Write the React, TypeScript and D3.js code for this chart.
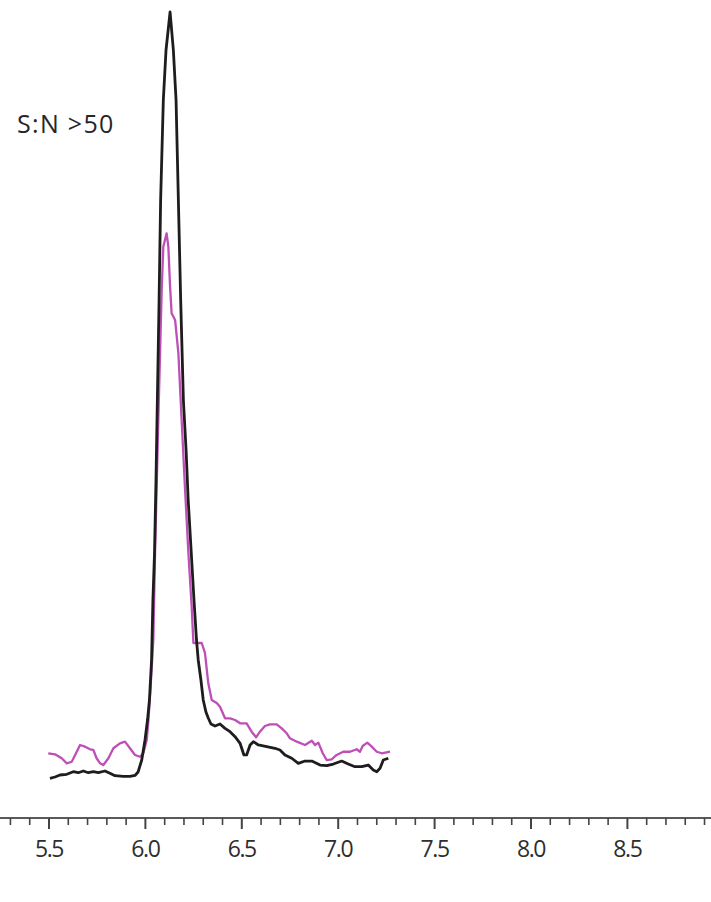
import React from "react";
import * as d3 from "d3";

// Retention time (min) and relative intensity for the two traces
const blackTime = [5.505, 5.531, 5.557, 5.592, 5.626, 5.652, 5.678, 5.704, 5.73, 5.756, 5.79, 5.816, 5.842, 5.885, 5.92, 5.946, 5.962, 5.981, 5.998, 6.011, 6.021, 6.032, 6.039, 6.047, 6.055, 6.062, 6.071, 6.079, 6.093, 6.107, 6.128, 6.145, 6.159, 6.171, 6.183, 6.197, 6.211, 6.222, 6.237, 6.252, 6.265, 6.274, 6.288, 6.3, 6.314, 6.326, 6.34, 6.361, 6.387, 6.413, 6.439, 6.465, 6.491, 6.511, 6.525, 6.543, 6.56, 6.586, 6.629, 6.672, 6.698, 6.724, 6.759, 6.793, 6.828, 6.863, 6.906, 6.94, 6.975, 7.018, 7.052, 7.087, 7.122, 7.156, 7.182, 7.2, 7.217, 7.234, 7.26];
const blackIntensity = [0.22, 0.39, 0.65, 0.74, 1.08, 0.95, 1.17, 0.95, 1.08, 0.95, 1.17, 0.87, 0.56, 0.46, 0.46, 0.59, 1.04, 2.6, 5.21, 7.81, 10.42, 15.63, 23.44, 29.3, 39.06, 49.48, 62.5, 75.52, 88.54, 95.05, 100, 95.05, 88.54, 75.52, 62.5, 49.48, 42.97, 36.46, 29.95, 23.44, 18.23, 15.63, 13.02, 10.42, 8.85, 8.07, 7.29, 7.03, 7.29, 6.73, 6.29, 5.64, 4.78, 3.26, 3.26, 4.56, 4.99, 4.56, 4.34, 4.13, 3.91, 3.26, 2.83, 2.17, 2.47, 2.47, 1.95, 1.86, 2.08, 2.47, 2.08, 1.73, 1.73, 1.95, 1.3, 1.08, 1.52, 2.6, 2.83];

const pinkTime = [5.496, 5.531, 5.566, 5.592, 5.618, 5.644, 5.661, 5.687, 5.713, 5.73, 5.747, 5.765, 5.782, 5.808, 5.834, 5.868, 5.894, 5.92, 5.946, 5.972, 5.989, 6.007, 6.016, 6.026, 6.041, 6.05, 6.067, 6.085, 6.093, 6.11, 6.119, 6.128, 6.136, 6.154, 6.171, 6.188, 6.205, 6.223, 6.24, 6.249, 6.292, 6.309, 6.326, 6.344, 6.37, 6.387, 6.413, 6.439, 6.465, 6.491, 6.525, 6.551, 6.574, 6.594, 6.62, 6.646, 6.681, 6.707, 6.733, 6.75, 6.785, 6.828, 6.863, 6.88, 6.897, 6.92, 6.94, 6.966, 6.992, 7.026, 7.061, 7.096, 7.113, 7.127, 7.151, 7.174, 7.2, 7.226, 7.269];
const pinkIntensity = [3.48, 3.35, 2.83, 2.17, 2.38, 3.68, 4.56, 4.34, 4.0, 3.91, 2.83, 2.17, 1.95, 2.83, 4.13, 4.78, 4.99, 4.13, 3.26, 3.03, 3.48, 5.21, 7.81, 11.72, 18.23, 29.56, 46.88, 64.23, 69.44, 71.18, 69.44, 64.23, 60.77, 59.9, 55.6, 46.88, 38.19, 29.56, 22.57, 17.84, 17.84, 16.54, 12.63, 10.42, 10.03, 9.54, 8.03, 8.03, 7.81, 7.38, 7.38, 6.29, 5.56, 6.29, 7.03, 7.25, 7.25, 6.73, 6.08, 5.43, 4.99, 4.56, 5.12, 4.56, 4.86, 3.48, 2.6, 2.7, 3.26, 3.68, 3.68, 4.0, 3.68, 4.43, 4.86, 4.34, 3.68, 3.48, 3.68];

const majorTicks = [5.5, 6.0, 6.5, 7.0, 7.5, 8.0, 8.5];
const annotation = "S:N >50";

const W = 711;
const H = 902;
const axisY = 818;

export default function App() {
  const x = d3.scaleLinear().domain([5.5, 8.5]).range([49, 627.4]);
  const y = d3.scaleLinear().domain([0, 100]).range([780, 12]);

  const line = d3
    .line<[number, number]>()
    .x((d) => x(d[0]))
    .y((d) => y(d[1]))
    .curve(d3.curveLinear);

  const blackPts = blackTime.map((t, i) => [t, blackIntensity[i]] as [number, number]);
  const pinkPts = pinkTime.map((t, i) => [t, pinkIntensity[i]] as [number, number]);

  const minorTicks = d3.range(53, 90).map((v) => v / 10).filter((v) => x(v) >= 0 && x(v) <= W);
  const isMajor = (v: number) => majorTicks.some((m) => Math.abs(m - v) < 1e-6);

  return (
    <svg
      width={W}
      height={H}
      style={{ position: "absolute", left: 0, top: 0, background: "#fff" }}
    >
      <text
        x={17}
        y={133}
        fontFamily="'Open Sans', sans-serif"
        fontSize={25}
        fill="#262626"
        letterSpacing={1.3}
      >
        {annotation}
      </text>

      <path d={line(pinkPts) || ""} fill="none" stroke="#bd4fb6" strokeWidth={2.3} strokeLinejoin="round" />
      <path d={line(blackPts) || ""} fill="none" stroke="#1e1c1d" strokeWidth={2.8} strokeLinejoin="round" />

      <line x1={0} x2={W} y1={axisY} y2={axisY} stroke="#5a5a5a" strokeWidth={2} />
      {minorTicks.map((v) => (
        <line
          key={v}
          x1={x(v)}
          x2={x(v)}
          y1={axisY}
          y2={axisY + (isMajor(v) ? 11 : 7)}
          stroke="#444"
          strokeWidth={isMajor(v) ? 2 : 1.6}
        />
      ))}
      {majorTicks.map((v) => (
        <text
          key={v}
          x={x(v)}
          y={857}
          textAnchor="middle"
          fontFamily="'Open Sans', sans-serif"
          fontSize={23}
          letterSpacing={-1.4}
          fill="#2e2e2e"
        >
          {v.toFixed(1)}
        </text>
      ))}
    </svg>
  );
}
